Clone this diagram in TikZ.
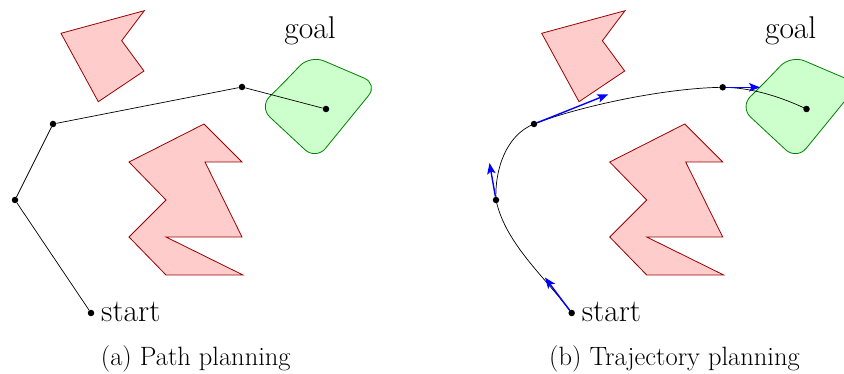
\documentclass[tikz,border=0pt]{standalone}
\usetikzlibrary{arrows.meta}
\begin{document}
\begin{tikzpicture}[x=1pt,y=-1pt,
  obst/.style={fill=red!20,draw=red!60!black,line width=0.8pt,line join=miter},
  goalreg/.style={fill=green!20,draw=green!50!black,line width=0.8pt,rounded corners=15pt},
  dot/.style={circle,fill=black,inner sep=0pt,minimum size=6.5pt},
  pathln/.style={black,line width=0.7pt},
  vel/.style={blue,line width=1.4pt,-{Stealth[length=11pt,width=8.5pt,inset=2.5pt]}},
  lbl/.style={inner sep=0pt,font=\fontsize{31.5}{36}\selectfont},
  captxt/.style={inner sep=0pt,font=\fontsize{26.5}{30}\selectfont}]
\useasboundingbox (0,0) rectangle (844,374);
% ---------- panel (a) ----------
\begin{scope}
  \draw[obst] (61,33.3) -- (144.3,10.7) -- (121.7,40.7) -- (144,71) -- (98.3,101.7) -- cycle;
  \draw[obst] (129,162) -- (204,124) -- (242,162) -- (205,162) -- (242,237) -- (166,237)
     -- (243,275) -- (166,275) -- (129,237) -- (166,200) -- cycle;
  \draw[goalreg] (285,81.5) -- (310,55) -- (378,84) -- (316,160) -- (259,107) -- cycle;
  \node[dot] (aS) at (91,313) {};
  \node[dot] (a1) at (15,200) {};
  \node[dot] (a2) at (53,124) {};
  \node[dot] (a3) at (242,87) {};
  \node[dot] (aG) at (326,109) {};
  \draw[pathln] (aS) -- (a1) -- (a2) -- (a3) -- (aG);
  \node[lbl,anchor=base west] (aStart) at (101,322) {start};
  \node[lbl,anchor=base] (aGoal) at (310,38.3) {goal};
  \node[captxt,anchor=base] (aCap) at (195.8,365) {(a) Path planning};
\end{scope}
% ---------- panel (b) ----------
\begin{scope}[xshift=480.7pt]
  \draw[obst] (61,33.3) -- (144.3,10.7) -- (121.7,40.7) -- (144,71) -- (98.3,101.7) -- cycle;
  \draw[obst] (129,162) -- (204,124) -- (242,162) -- (205,162) -- (242,237) -- (166,237)
     -- (243,275) -- (166,275) -- (129,237) -- (166,200) -- cycle;
  \draw[goalreg] (285,81.5) -- (310,55) -- (378,84) -- (316,160) -- (259,107) -- cycle;
\end{scope}
\node[dot] (bS) at (571.7,313) {};
\node[dot] (b1) at (496,200) {};
\node[dot] (b2) at (534,124) {};
\node[dot] (b3) at (722.7,87.3) {};
\node[dot] (bG) at (806.5,109) {};
\draw[pathln] (bS.center) .. controls (544.7,276.5) and (505.5,244) .. (b1.center)
  .. controls (494.5,170) and (506,135) .. (b2.center)
  .. controls (575.9,107.4) and (662.7,88) .. (b3.center)
  .. controls (752,87.5) and (781,97) .. (bG.center);
\coordinate (tS) at (545,277.5);
\coordinate (t1) at (489.5,163);
\coordinate (t2) at (608.3,94.3);
\coordinate (t3) at (760,87.3);
\draw[vel] (bS) -- (tS);
\draw[vel] (b1) -- (t1);
\draw[vel] (b2) -- (t2);
\draw[vel] (b3) -- (t3);
\node[lbl,anchor=base west] (bStart) at (581.7,322) {start};
\node[lbl,anchor=base] (bGoal) at (790.7,38.3) {goal};
\node[captxt,anchor=base] (bCap) at (674.5,365) {(b) Trajectory planning};
\end{tikzpicture}
\end{document}
